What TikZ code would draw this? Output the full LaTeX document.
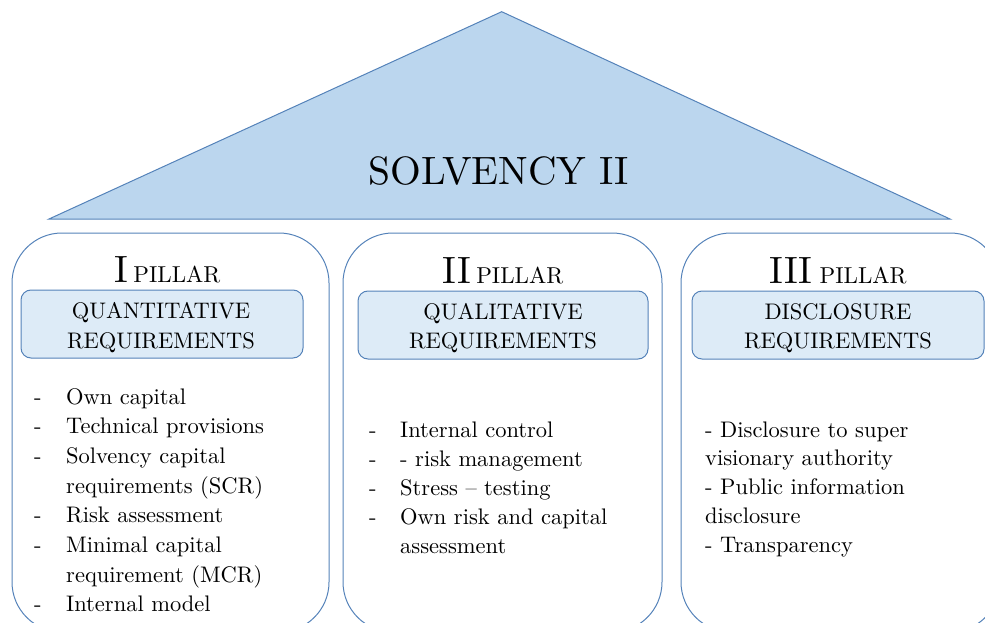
\documentclass[tikz,border=0pt]{standalone}
\usepackage{fontspec}
\setmainfont{lmroman10-regular}[Extension=.otf,BoldFont=lmroman10-bold]
\definecolor{roofFill}{RGB}{187,214,238}
\definecolor{headFill}{RGB}{221,235,247}
\definecolor{edge}{RGB}{84,130,185}
\begin{document}
\begin{tikzpicture}[x=1pt,y=-1pt,
  roof/.style={fill=roofFill,draw=edge,line width=1pt,line join=miter},
  pillarbox/.style={draw=edge,line width=1pt,rounded corners=50pt,
    minimum height=399pt,inner sep=0pt},
  headbox/.style={draw=edge,fill=headFill,line width=1pt,rounded corners=10pt,
    minimum height=68pt,inner sep=0pt},
  title/.style={anchor=base,inner sep=0pt},
  headtext/.style={anchor=base,inner sep=0pt,font=\fontsize{22.5}{30}\selectfont},
  item/.style={anchor=base west,inner sep=0pt,font=\fontsize{22.5}{29}\selectfont}]
\useasboundingbox (0,0) rectangle (985,623);
\clip (0,0) rectangle (985,623);

% roof
\coordinate (roofL) at (49,219);
\coordinate (roofT) at (501.7,11.7);
\coordinate (roofR) at (950,219);
\draw[roof] (roofL) -- (roofT) -- (roofR) -- cycle;
\node[title,font=\fontsize{39.5}{40}\selectfont] (solv) at (499,184) {SOLVENCY II};

% pillars
\node[pillarbox,minimum width=317pt] (p1) at (170.5,432.5) {};
\node[pillarbox,minimum width=319pt] (p2) at (502.5,432.5) {};
\node[pillarbox,minimum width=319pt] (p3) at (840.5,432.5) {};

% pillar titles
\node[title] (t1) at (167.5,282)
  {{\fontsize{38}{38}\selectfont I}\hspace{5pt}{\fontsize{23}{25}\selectfont PILLAR}};
\node[title] (t2) at (503,283)
  {{\fontsize{38}{38}\selectfont II}\hspace{5pt}{\fontsize{23}{25}\selectfont PILLAR}};
\node[title] (t3) at (838,283)
  {{\fontsize{38}{38}\selectfont III}\hspace{7pt}{\fontsize{23}{25}\selectfont PILLAR}};

% requirement headers
\node[headbox,minimum width=282pt] (h1) at (162,324) {};
\node[headbox,minimum width=290pt] (h2) at (503,325) {};
\node[headbox,minimum width=292pt] (h3) at (838,325) {};
\node[headtext] (h1a) at (161,318.5) {QUANTITATIVE};
\node[headtext] (h1b) at (161,348) {REQUIREMENTS};
\node[headtext] (h2a) at (503,319) {QUALITATIVE};
\node[headtext] (h2b) at (503,348) {REQUIREMENTS};
\node[headtext] (h3a) at (838,319) {DISCLOSURE};
\node[headtext] (h3b) at (838,348) {REQUIREMENTS};

% pillar I items
\foreach \t [count=\i] in {Own capital, Technical provisions, Solvency capital,
    requirements (SCR), Risk assessment, Minimal capital, requirement (MCR),
    Internal model}
  \node[item] (a\i) at (66,{404+29.7*(\i-1)}) {\t};
\foreach \i in {1,2,3,5,6,8}
  \node[item] (da\i) at (34,{404+29.7*(\i-1)}) {-};

% pillar II items
\foreach \t [count=\i] in {Internal control, - risk management, Stress – testing,
    Own risk and capital, assessment}
  \node[item] (b\i) at (400,{437+29.2*(\i-1)}) {\t};
\foreach \i in {1,2,3,4}
  \node[item] (db\i) at (369,{437+29.2*(\i-1)}) {-};

% pillar III items
\foreach \t [count=\i] in {- Disclosure to super, visionary authority,
    - Public information, disclosure, - Transparency}
  \node[item] (c\i) at (705,{437+28.8*(\i-1)}) {\t};
\end{tikzpicture}
\end{document}
